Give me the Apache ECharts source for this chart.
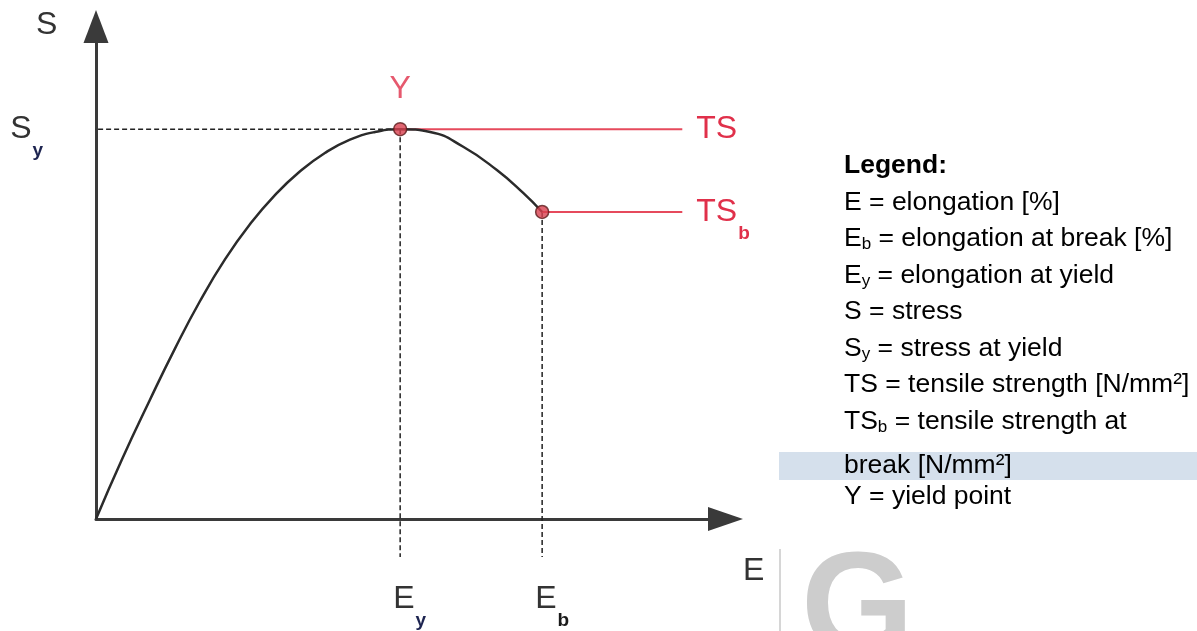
<!DOCTYPE html>
<html>
<head>
<meta charset="utf-8">
<title>Stress / elongation</title>
<script src="https://cdn.jsdelivr.net/npm/echarts@6/dist/echarts.min.js"></script>
<style>
    html, body { margin: 0; padding: 0; background: #fff; }
    #chart { width: 1197px; height: 631px; }
</style>
</head>
<body>
<div id="chart"></div>
<script>
// curve: elongation E (x) against stress S (y), both 0..100
const curveE = [0, 4.2, 8.8, 12.9, 17.0, 21.1, 25.2, 29.2, 33.3, 37.4, 41.5, 45.6, 49.7, 54.6, 60.0, 65.5, 69.8, 72.9];
const curveS = [0, 12.4, 25.0, 35.8, 45.8, 54.6, 62.0, 68.0, 73.0, 76.9, 79.7, 81.3, 81.9, 81.3, 78.2, 73.3, 68.5, 64.5];
const yieldPoint = [49.7, 81.9];   // Ey, Sy
const breakPoint = [72.9, 64.5];   // Eb, TSb
const strengthEnd = 95.8;          // where the TS / TSb lines stop
const guideLeft = -7.5;            // dashed Sy guide starts left of the S axis
const guideBottom = -8;            // dashed Ey / Eb guides run below the E axis

const legendRows = [
    '{h|Legend:}',
    '{m|E = elongation [%]}',
    '{m|E}{s|b}{m| = elongation at break [%]}',
    '{m|E}{s|y}{m| = elongation at yield}',
    '{m|S = stress}',
    '{m|S}{s|y}{m| = stress at yield}',
    '{m|TS = tensile strength [N/mm²]}',
    '{m|TS}{s|b}{m| = tensile strength at}',
    '{m|break [N/mm²]}',
    '{m|Y = yield point}'
];

const FONT = 'Liberation Sans, Arial, sans-serif';
const RED = '#e0304a';
const RED_LINE = '#e64a5c';
const INK = '#333';

const curve = curveE.map((e, i) => [e, curveS[i]]);

function subLabel(mainColor, subColor) {
    return {
        m: { fontFamily: FONT, fontSize: 32, lineHeight: 62, color: mainColor },
        s: { fontFamily: FONT, fontSize: 19, fontWeight: 'bold', lineHeight: 19,
             verticalAlign: 'bottom', color: subColor, padding: [0, 0, 0, 1] }
    };
}

const chart = echarts.init(document.getElementById('chart'));

const rowY = [166, 202.5, 239, 275.5, 312, 348.5, 385, 421.5, 466, 497];
const legendText = legendRows.map((row, i) => ({
    type: 'text',
    x: 844,
    y: rowY[i],
    z: 10,
    style: {
        text: row,
        align: 'left',
        verticalAlign: 'middle',
        rich: {
            h: { fontFamily: FONT, fontSize: 26.5, fontWeight: 'bold', lineHeight: 28, color: '#111' },
            m: { fontFamily: FONT, fontSize: 26.5, lineHeight: 28, color: '#111' },
            s: { fontFamily: FONT, fontSize: 17, lineHeight: 17, verticalAlign: 'bottom', color: '#111' }
        }
    }
}));

const guide = { color: '#222', width: 1.5, type: [5, 3] };

const option = {
    animation: false,
    backgroundColor: '#fff',
    grid: { left: 96, right: 489, top: 43, bottom: 112, containLabel: false, outerBoundsMode: 'none' },
    xAxis: {
        type: 'value', min: 0, max: 100,
        axisLine: {
            show: true, symbol: ['none', 'triangle'], symbolSize: [24, 35], symbolOffset: [0, 17.5],
            lineStyle: { color: '#3a3a3a', width: 3 }
        },
        axisTick: { show: false }, axisLabel: { show: false }, splitLine: { show: false }
    },
    yAxis: {
        type: 'value', min: 0, max: 100,
        axisLine: {
            show: true, symbol: ['none', 'triangle'], symbolSize: [25, 33], symbolOffset: [0, 16.5],
            lineStyle: { color: '#3a3a3a', width: 3 }
        },
        axisTick: { show: false }, axisLabel: { show: false }, splitLine: { show: false }
    },
    graphic: [
        { type: 'rect', shape: { x: 779, y: 452, width: 418, height: 28 }, style: { fill: '#d5e0ec' }, z: 1 },
        { type: 'line', shape: { x1: 780, y1: 549, x2: 780, y2: 631 }, style: { stroke: '#c8c8c8', lineWidth: 1.5 }, z: 1 },
        { type: 'text', x: 801, y: 613, z: 1,
          style: { text: 'G', fontFamily: FONT, fontSize: 145, fontWeight: 'bold', fill: '#cdcdcd', verticalAlign: 'middle' } },
        { type: 'text', x: 36, y: 25, z: 10,
          style: { text: 'S', fontFamily: FONT, fontSize: 32, fill: INK, verticalAlign: 'middle' } },
        { type: 'text', x: 743, y: 571, z: 10,
          style: { text: 'E', fontFamily: FONT, fontSize: 32, fill: INK, verticalAlign: 'middle' } }
    ].concat(legendText),
    series: [
        {
            name: 'Sy guide', type: 'line', clip: false, silent: true,
            symbol: 'circle', symbolSize: 0, showSymbol: true,
            lineStyle: guide,
            data: [
                { value: [guideLeft, yieldPoint[1]],
                  label: { show: true, position: 'left', distance: 7, formatter: '{m|S}{s|y}', rich: subLabel(INK, '#1d2450') } },
                yieldPoint
            ]
        },
        {
            name: 'Ey guide', type: 'line', clip: false, silent: true,
            symbol: 'circle', symbolSize: 0, showSymbol: true,
            lineStyle: guide,
            data: [
                yieldPoint,
                { value: [yieldPoint[0], guideBottom],
                  label: { show: true, position: 'bottom', distance: 11, align: 'left', offset: [-7, 0],
                           formatter: '{m|E}{s|y}', rich: subLabel(INK, '#1d2450') } }
            ]
        },
        {
            name: 'Eb guide', type: 'line', clip: false, silent: true,
            symbol: 'circle', symbolSize: 0, showSymbol: true,
            lineStyle: guide,
            data: [
                breakPoint,
                { value: [breakPoint[0], guideBottom],
                  label: { show: true, position: 'bottom', distance: 11, align: 'left', offset: [-7, 0],
                           formatter: '{m|E}{s|b}', rich: subLabel(INK, '#1a1a1a') } }
            ]
        },
        {
            name: 'TS', type: 'line', clip: false, silent: true,
            symbol: 'circle', symbolSize: 0, showSymbol: true,
            lineStyle: { color: RED_LINE, width: 2 },
            data: [
                yieldPoint,
                { value: [strengthEnd, yieldPoint[1]],
                  label: { show: true, position: 'right', distance: 14, formatter: 'TS',
                           fontFamily: FONT, fontSize: 32, color: RED } }
            ]
        },
        {
            name: 'TSb', type: 'line', clip: false, silent: true,
            symbol: 'circle', symbolSize: 0, showSymbol: true,
            lineStyle: { color: RED_LINE, width: 2 },
            data: [
                breakPoint,
                { value: [strengthEnd, breakPoint[1]],
                  label: { show: true, position: 'right', distance: 14, formatter: '{m|TS}{s|b}', rich: subLabel(RED, RED) } }
            ]
        },
        {
            name: 'curve', type: 'line', silent: true,
            smooth: 0.5, showSymbol: false,
            lineStyle: { color: '#2b2b2b', width: 2.5 },
            data: curve
        },
        {
            name: 'points', type: 'scatter', silent: true, z: 5,
            symbolSize: 13,
            itemStyle: { color: '#d8404f', borderColor: '#5b1b1b', borderWidth: 1.5 },
            data: [
                { value: yieldPoint,
                  label: { show: true, position: 'top', distance: 17, formatter: 'Y',
                           fontFamily: FONT, fontSize: 32, color: RED } },
                breakPoint
            ]
        }
    ]
};

chart.setOption(option);
</script>
</body>
</html>
